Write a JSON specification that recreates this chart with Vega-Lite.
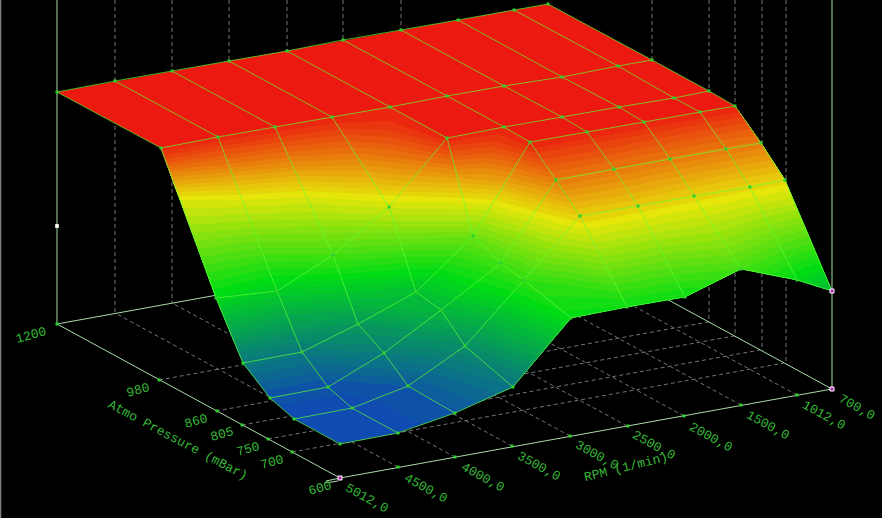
{"$schema":"https://vega.github.io/schema/vega-lite/v6.json","width":882,"height":518,"padding":0,"autosize":{"type":"none"},"background":"#000000","config":{"view":{"stroke":null}},
"datasets":{
"grid":[
{"pressure":1200,"rpm":5012,"sx":57,"sy":92},{"pressure":1200,"rpm":4500,"sx":115,"sy":81},{"pressure":1200,"rpm":4000,"sx":172,"sy":71},{"pressure":1200,"rpm":3500,"sx":229,"sy":61},{"pressure":1200,"rpm":3000,"sx":287,"sy":51},{"pressure":1200,"rpm":2500,"sx":343,"sy":40},{"pressure":1200,"rpm":2000,"sx":401,"sy":30},{"pressure":1200,"rpm":1500,"sx":458,"sy":20},{"pressure":1200,"rpm":1012,"sx":514,"sy":10},{"pressure":1200,"rpm":700,"sx":548,"sy":4},
{"pressure":980,"rpm":5012,"sx":161,"sy":148},{"pressure":980,"rpm":4500,"sx":218,"sy":137},{"pressure":980,"rpm":4000,"sx":275,"sy":127},{"pressure":980,"rpm":3500,"sx":332,"sy":117},{"pressure":980,"rpm":3000,"sx":390,"sy":107},{"pressure":980,"rpm":2500,"sx":447,"sy":96},{"pressure":980,"rpm":2000,"sx":504,"sy":86},{"pressure":980,"rpm":1500,"sx":562,"sy":77},{"pressure":980,"rpm":1012,"sx":618,"sy":66},{"pressure":980,"rpm":700,"sx":652,"sy":60},
{"pressure":860,"rpm":5012,"sx":216,"sy":298},{"pressure":860,"rpm":4500,"sx":277,"sy":291},{"pressure":860,"rpm":4000,"sx":333,"sy":255},{"pressure":860,"rpm":3500,"sx":389,"sy":207},{"pressure":860,"rpm":3000,"sx":447,"sy":138},{"pressure":860,"rpm":2500,"sx":504,"sy":127},{"pressure":860,"rpm":2000,"sx":562,"sy":117},{"pressure":860,"rpm":1500,"sx":619,"sy":107},{"pressure":860,"rpm":1012,"sx":674,"sy":98},{"pressure":860,"rpm":700,"sx":709,"sy":91},
{"pressure":805,"rpm":5012,"sx":243,"sy":363},{"pressure":805,"rpm":4500,"sx":302,"sy":352},{"pressure":805,"rpm":4000,"sx":358,"sy":324},{"pressure":805,"rpm":3500,"sx":416,"sy":292},{"pressure":805,"rpm":3000,"sx":473,"sy":236},{"pressure":805,"rpm":2500,"sx":530,"sy":142},{"pressure":805,"rpm":2000,"sx":587,"sy":132},{"pressure":805,"rpm":1500,"sx":644,"sy":122},{"pressure":805,"rpm":1012,"sx":700,"sy":112},{"pressure":805,"rpm":700,"sx":735,"sy":106},
{"pressure":750,"rpm":5012,"sx":270,"sy":398},{"pressure":750,"rpm":4500,"sx":328,"sy":387},{"pressure":750,"rpm":4000,"sx":384,"sy":353},{"pressure":750,"rpm":3500,"sx":441,"sy":310},{"pressure":750,"rpm":3000,"sx":501,"sy":263},{"pressure":750,"rpm":2500,"sx":556,"sy":180},{"pressure":750,"rpm":2000,"sx":614,"sy":169},{"pressure":750,"rpm":1500,"sx":670,"sy":159},{"pressure":750,"rpm":1012,"sx":726,"sy":149},{"pressure":750,"rpm":700,"sx":761,"sy":143},
{"pressure":700,"rpm":5012,"sx":294,"sy":419},{"pressure":700,"rpm":4500,"sx":352,"sy":408},{"pressure":700,"rpm":4000,"sx":408,"sy":386},{"pressure":700,"rpm":3500,"sx":465,"sy":346},{"pressure":700,"rpm":3000,"sx":524,"sy":280},{"pressure":700,"rpm":2500,"sx":580,"sy":216},{"pressure":700,"rpm":2000,"sx":638,"sy":206},{"pressure":700,"rpm":1500,"sx":694,"sy":196},{"pressure":700,"rpm":1012,"sx":750,"sy":187},{"pressure":700,"rpm":700,"sx":785,"sy":180},
{"pressure":600,"rpm":5012,"sx":340,"sy":444},{"pressure":600,"rpm":4500,"sx":398,"sy":433},{"pressure":600,"rpm":4000,"sx":455,"sy":413},{"pressure":600,"rpm":3500,"sx":513,"sy":387},{"pressure":600,"rpm":3000,"sx":571,"sy":318},{"pressure":600,"rpm":2500,"sx":627,"sy":307},{"pressure":600,"rpm":2000,"sx":685,"sy":297},{"pressure":600,"rpm":1500,"sx":741,"sy":269},{"pressure":600,"rpm":1012,"sx":797,"sy":280},{"pressure":600,"rpm":700,"sx":832,"sy":291}
],
"surface":[
{"level":34,"sx":161,"sy":148},{"level":34,"sx":216,"sy":298},{"level":34,"sx":243,"sy":363},{"level":34,"sx":270,"sy":398},{"level":34,"sx":294,"sy":419},{"level":34,"sx":340,"sy":444},{"level":34,"sx":398,"sy":433},{"level":34,"sx":455,"sy":413},{"level":34,"sx":513,"sy":387},{"level":34,"sx":571,"sy":318},{"level":34,"sx":627,"sy":307},{"level":34,"sx":685,"sy":297},{"level":34,"sx":741,"sy":269},{"level":34,"sx":797,"sy":280},{"level":34,"sx":832,"sy":291},{"level":34,"sx":785,"sy":180},{"level":34,"sx":761,"sy":143},{"level":34,"sx":735,"sy":106},{"level":34,"sx":390,"sy":107},
{"level":38,"sx":279,"sy":406},{"level":38,"sx":337,"sy":395},{"level":38,"sx":375,"sy":399},{"level":38,"sx":421,"sy":425},{"level":38,"sx":455,"sy":413},{"level":38,"sx":513,"sy":387},{"level":38,"sx":571,"sy":318},{"level":38,"sx":627,"sy":307},{"level":38,"sx":685,"sy":297},{"level":38,"sx":741,"sy":269},{"level":38,"sx":797,"sy":280},{"level":38,"sx":832,"sy":291},{"level":38,"sx":785,"sy":180},{"level":38,"sx":761,"sy":143},{"level":38,"sx":735,"sy":106},{"level":38,"sx":390,"sy":107},{"level":38,"sx":161,"sy":148},{"level":38,"sx":216,"sy":298},{"level":38,"sx":243,"sy":363},{"level":38,"sx":270,"sy":398},
{"level":45,"sx":265,"sy":391},{"level":45,"sx":323,"sy":380},{"level":45,"sx":408,"sy":386},{"level":45,"sx":459,"sy":411},{"level":45,"sx":513,"sy":387},{"level":45,"sx":571,"sy":318},{"level":45,"sx":627,"sy":307},{"level":45,"sx":685,"sy":297},{"level":45,"sx":741,"sy":269},{"level":45,"sx":797,"sy":280},{"level":45,"sx":832,"sy":291},{"level":45,"sx":785,"sy":180},{"level":45,"sx":761,"sy":143},{"level":45,"sx":735,"sy":106},{"level":45,"sx":390,"sy":107},{"level":45,"sx":161,"sy":148},{"level":45,"sx":216,"sy":298},{"level":45,"sx":243,"sy":363},
{"level":50,"sx":258,"sy":383},{"level":50,"sx":317,"sy":372},{"level":50,"sx":402,"sy":378},{"level":50,"sx":418,"sy":379},{"level":50,"sx":478,"sy":403},{"level":50,"sx":513,"sy":387},{"level":50,"sx":571,"sy":318},{"level":50,"sx":627,"sy":307},{"level":50,"sx":685,"sy":297},{"level":50,"sx":741,"sy":269},{"level":50,"sx":797,"sy":280},{"level":50,"sx":832,"sy":291},{"level":50,"sx":785,"sy":180},{"level":50,"sx":761,"sy":143},{"level":50,"sx":735,"sy":106},{"level":50,"sx":390,"sy":107},{"level":50,"sx":161,"sy":148},{"level":50,"sx":216,"sy":298},{"level":50,"sx":243,"sy":363},
{"level":55,"sx":252,"sy":375},{"level":55,"sx":311,"sy":364},{"level":55,"sx":396,"sy":370},{"level":55,"sx":428,"sy":372},{"level":55,"sx":497,"sy":394},{"level":55,"sx":513,"sy":387},{"level":55,"sx":571,"sy":318},{"level":55,"sx":627,"sy":307},{"level":55,"sx":685,"sy":297},{"level":55,"sx":741,"sy":269},{"level":55,"sx":797,"sy":280},{"level":55,"sx":832,"sy":291},{"level":55,"sx":785,"sy":180},{"level":55,"sx":761,"sy":143},{"level":55,"sx":735,"sy":106},{"level":55,"sx":390,"sy":107},{"level":55,"sx":161,"sy":148},{"level":55,"sx":216,"sy":298},{"level":55,"sx":243,"sy":363},
{"level":60,"sx":246,"sy":368},{"level":60,"sx":304,"sy":355},{"level":60,"sx":390,"sy":361},{"level":60,"sx":437,"sy":365},{"level":60,"sx":510,"sy":385},{"level":60,"sx":514,"sy":386},{"level":60,"sx":571,"sy":318},{"level":60,"sx":627,"sy":307},{"level":60,"sx":685,"sy":297},{"level":60,"sx":741,"sy":269},{"level":60,"sx":797,"sy":280},{"level":60,"sx":832,"sy":291},{"level":60,"sx":785,"sy":180},{"level":60,"sx":761,"sy":143},{"level":60,"sx":735,"sy":106},{"level":60,"sx":390,"sy":107},{"level":60,"sx":161,"sy":148},{"level":60,"sx":216,"sy":298},{"level":60,"sx":243,"sy":363},
{"level":65,"sx":241,"sy":359},{"level":65,"sx":300,"sy":348},{"level":65,"sx":384,"sy":353},{"level":65,"sx":447,"sy":358},{"level":65,"sx":494,"sy":371},{"level":65,"sx":519,"sy":380},{"level":65,"sx":571,"sy":318},{"level":65,"sx":627,"sy":307},{"level":65,"sx":685,"sy":297},{"level":65,"sx":741,"sy":269},{"level":65,"sx":797,"sy":280},{"level":65,"sx":832,"sy":291},{"level":65,"sx":785,"sy":180},{"level":65,"sx":761,"sy":143},{"level":65,"sx":735,"sy":106},{"level":65,"sx":390,"sy":107},{"level":65,"sx":161,"sy":148},{"level":65,"sx":216,"sy":298},
{"level":70,"sx":238,"sy":352},{"level":70,"sx":298,"sy":342},{"level":70,"sx":376,"sy":344},{"level":70,"sx":457,"sy":352},{"level":70,"sx":478,"sy":357},{"level":70,"sx":524,"sy":374},{"level":70,"sx":571,"sy":318},{"level":70,"sx":627,"sy":307},{"level":70,"sx":685,"sy":297},{"level":70,"sx":741,"sy":269},{"level":70,"sx":797,"sy":280},{"level":70,"sx":832,"sy":291},{"level":70,"sx":785,"sy":180},{"level":70,"sx":761,"sy":143},{"level":70,"sx":735,"sy":106},{"level":70,"sx":390,"sy":107},{"level":70,"sx":161,"sy":148},{"level":70,"sx":216,"sy":298},
{"level":75,"sx":236,"sy":346},{"level":75,"sx":295,"sy":335},{"level":75,"sx":367,"sy":334},{"level":75,"sx":464,"sy":344},{"level":75,"sx":529,"sy":368},{"level":75,"sx":571,"sy":318},{"level":75,"sx":627,"sy":307},{"level":75,"sx":685,"sy":297},{"level":75,"sx":741,"sy":269},{"level":75,"sx":797,"sy":280},{"level":75,"sx":832,"sy":291},{"level":75,"sx":785,"sy":180},{"level":75,"sx":761,"sy":143},{"level":75,"sx":735,"sy":106},{"level":75,"sx":390,"sy":107},{"level":75,"sx":161,"sy":148},{"level":75,"sx":216,"sy":298},
{"level":80,"sx":233,"sy":340},{"level":80,"sx":292,"sy":329},{"level":80,"sx":358,"sy":324},{"level":80,"sx":458,"sy":336},{"level":80,"sx":470,"sy":338},{"level":80,"sx":533,"sy":362},{"level":80,"sx":571,"sy":318},{"level":80,"sx":627,"sy":307},{"level":80,"sx":685,"sy":297},{"level":80,"sx":741,"sy":269},{"level":80,"sx":797,"sy":280},{"level":80,"sx":832,"sy":291},{"level":80,"sx":785,"sy":180},{"level":80,"sx":761,"sy":143},{"level":80,"sx":735,"sy":106},{"level":80,"sx":390,"sy":107},{"level":80,"sx":161,"sy":148},{"level":80,"sx":216,"sy":298},
{"level":85,"sx":231,"sy":334},{"level":85,"sx":290,"sy":322},{"level":85,"sx":356,"sy":318},{"level":85,"sx":453,"sy":329},{"level":85,"sx":476,"sy":333},{"level":85,"sx":538,"sy":357},{"level":85,"sx":571,"sy":318},{"level":85,"sx":627,"sy":307},{"level":85,"sx":685,"sy":297},{"level":85,"sx":741,"sy":269},{"level":85,"sx":797,"sy":280},{"level":85,"sx":832,"sy":291},{"level":85,"sx":785,"sy":180},{"level":85,"sx":761,"sy":143},{"level":85,"sx":735,"sy":106},{"level":85,"sx":390,"sy":107},{"level":85,"sx":161,"sy":148},{"level":85,"sx":216,"sy":298},
{"level":90,"sx":228,"sy":328},{"level":90,"sx":287,"sy":315},{"level":90,"sx":353,"sy":311},{"level":90,"sx":448,"sy":321},{"level":90,"sx":482,"sy":327},{"level":90,"sx":543,"sy":351},{"level":90,"sx":571,"sy":318},{"level":90,"sx":627,"sy":307},{"level":90,"sx":685,"sy":297},{"level":90,"sx":741,"sy":269},{"level":90,"sx":797,"sy":280},{"level":90,"sx":832,"sy":291},{"level":90,"sx":785,"sy":180},{"level":90,"sx":761,"sy":143},{"level":90,"sx":735,"sy":106},{"level":90,"sx":390,"sy":107},{"level":90,"sx":161,"sy":148},{"level":90,"sx":216,"sy":298},
{"level":95,"sx":226,"sy":321},{"level":95,"sx":284,"sy":309},{"level":95,"sx":351,"sy":305},{"level":95,"sx":443,"sy":313},{"level":95,"sx":487,"sy":321},{"level":95,"sx":548,"sy":345},{"level":95,"sx":571,"sy":318},{"level":95,"sx":627,"sy":307},{"level":95,"sx":685,"sy":297},{"level":95,"sx":741,"sy":269},{"level":95,"sx":797,"sy":280},{"level":95,"sx":832,"sy":291},{"level":95,"sx":785,"sy":180},{"level":95,"sx":761,"sy":143},{"level":95,"sx":735,"sy":106},{"level":95,"sx":390,"sy":107},{"level":95,"sx":161,"sy":148},{"level":95,"sx":216,"sy":298},
{"level":100,"sx":223,"sy":315},{"level":100,"sx":281,"sy":303},{"level":100,"sx":349,"sy":299},{"level":100,"sx":422,"sy":296},{"level":100,"sx":446,"sy":306},{"level":100,"sx":492,"sy":315},{"level":100,"sx":553,"sy":339},{"level":100,"sx":571,"sy":318},{"level":100,"sx":627,"sy":307},{"level":100,"sx":685,"sy":297},{"level":100,"sx":741,"sy":269},{"level":100,"sx":797,"sy":280},{"level":100,"sx":828,"sy":288},{"level":100,"sx":831,"sy":288},{"level":100,"sx":785,"sy":180},{"level":100,"sx":761,"sy":143},{"level":100,"sx":735,"sy":106},{"level":100,"sx":390,"sy":107},{"level":100,"sx":161,"sy":148},{"level":100,"sx":216,"sy":298},
{"level":105,"sx":220,"sy":308},{"level":105,"sx":279,"sy":296},{"level":105,"sx":347,"sy":293},{"level":105,"sx":414,"sy":287},{"level":105,"sx":454,"sy":300},{"level":105,"sx":498,"sy":309},{"level":105,"sx":558,"sy":333},{"level":105,"sx":571,"sy":318},{"level":105,"sx":627,"sy":307},{"level":105,"sx":685,"sy":297},{"level":105,"sx":741,"sy":269},{"level":105,"sx":797,"sy":280},{"level":105,"sx":818,"sy":287},{"level":105,"sx":828,"sy":282},{"level":105,"sx":785,"sy":180},{"level":105,"sx":761,"sy":143},{"level":105,"sx":735,"sy":106},{"level":105,"sx":390,"sy":107},{"level":105,"sx":161,"sy":148},{"level":105,"sx":216,"sy":298},
{"level":110,"sx":218,"sy":303},{"level":110,"sx":276,"sy":289},{"level":110,"sx":344,"sy":286},{"level":110,"sx":412,"sy":281},{"level":110,"sx":427,"sy":281},{"level":110,"sx":462,"sy":294},{"level":110,"sx":503,"sy":304},{"level":110,"sx":563,"sy":327},{"level":110,"sx":571,"sy":318},{"level":110,"sx":627,"sy":307},{"level":110,"sx":685,"sy":297},{"level":110,"sx":741,"sy":269},{"level":110,"sx":797,"sy":280},{"level":110,"sx":807,"sy":283},{"level":110,"sx":825,"sy":275},{"level":110,"sx":785,"sy":180},{"level":110,"sx":761,"sy":143},{"level":110,"sx":735,"sy":106},{"level":110,"sx":390,"sy":107},{"level":110,"sx":161,"sy":148},{"level":110,"sx":216,"sy":298},
{"level":115,"sx":216,"sy":298},{"level":115,"sx":274,"sy":283},{"level":115,"sx":342,"sy":280},{"level":115,"sx":411,"sy":275},{"level":115,"sx":433,"sy":275},{"level":115,"sx":470,"sy":287},{"level":115,"sx":508,"sy":298},{"level":115,"sx":568,"sy":322},{"level":115,"sx":571,"sy":318},{"level":115,"sx":627,"sy":307},{"level":115,"sx":685,"sy":297},{"level":115,"sx":741,"sy":269},{"level":115,"sx":797,"sy":280},{"level":115,"sx":823,"sy":269},{"level":115,"sx":785,"sy":180},{"level":115,"sx":761,"sy":143},{"level":115,"sx":735,"sy":106},{"level":115,"sx":390,"sy":107},{"level":115,"sx":161,"sy":148},
{"level":120,"sx":213,"sy":290},{"level":120,"sx":272,"sy":276},{"level":120,"sx":340,"sy":274},{"level":120,"sx":409,"sy":269},{"level":120,"sx":440,"sy":269},{"level":120,"sx":478,"sy":281},{"level":120,"sx":513,"sy":292},{"level":120,"sx":563,"sy":312},{"level":120,"sx":627,"sy":306},{"level":120,"sx":685,"sy":296},{"level":120,"sx":741,"sy":269},{"level":120,"sx":784,"sy":277},{"level":120,"sx":793,"sy":273},{"level":120,"sx":820,"sy":262},{"level":120,"sx":785,"sy":180},{"level":120,"sx":761,"sy":143},{"level":120,"sx":735,"sy":106},{"level":120,"sx":390,"sy":107},{"level":120,"sx":161,"sy":148},
{"level":125,"sx":210,"sy":282},{"level":125,"sx":269,"sy":269},{"level":125,"sx":338,"sy":268},{"level":125,"sx":407,"sy":263},{"level":125,"sx":446,"sy":263},{"level":125,"sx":486,"sy":274},{"level":125,"sx":519,"sy":286},{"level":125,"sx":544,"sy":296},{"level":125,"sx":623,"sy":299},{"level":125,"sx":681,"sy":289},{"level":125,"sx":705,"sy":287},{"level":125,"sx":741,"sy":269},{"level":125,"sx":770,"sy":275},{"level":125,"sx":790,"sy":266},{"level":125,"sx":817,"sy":255},{"level":125,"sx":785,"sy":180},{"level":125,"sx":761,"sy":143},{"level":125,"sx":735,"sy":106},{"level":125,"sx":390,"sy":107},{"level":125,"sx":161,"sy":148},
{"level":130,"sx":207,"sy":273},{"level":130,"sx":266,"sy":262},{"level":130,"sx":336,"sy":261},{"level":130,"sx":405,"sy":257},{"level":130,"sx":452,"sy":256},{"level":130,"sx":492,"sy":268},{"level":130,"sx":524,"sy":280},{"level":130,"sx":619,"sy":292},{"level":130,"sx":677,"sy":282},{"level":130,"sx":721,"sy":279},{"level":130,"sx":741,"sy":269},{"level":130,"sx":757,"sy":272},{"level":130,"sx":786,"sy":259},{"level":130,"sx":814,"sy":249},{"level":130,"sx":785,"sy":180},{"level":130,"sx":761,"sy":143},{"level":130,"sx":735,"sy":106},{"level":130,"sx":390,"sy":107},{"level":130,"sx":161,"sy":148},
{"level":135,"sx":204,"sy":265},{"level":135,"sx":263,"sy":255},{"level":135,"sx":333,"sy":255},{"level":135,"sx":403,"sy":251},{"level":135,"sx":458,"sy":250},{"level":135,"sx":499,"sy":261},{"level":135,"sx":529,"sy":274},{"level":135,"sx":615,"sy":285},{"level":135,"sx":673,"sy":275},{"level":135,"sx":741,"sy":269},{"level":135,"sx":783,"sy":252},{"level":135,"sx":812,"sy":243},{"level":135,"sx":785,"sy":180},{"level":135,"sx":761,"sy":143},{"level":135,"sx":735,"sy":106},{"level":135,"sx":390,"sy":107},{"level":135,"sx":161,"sy":148},
{"level":140,"sx":201,"sy":257},{"level":140,"sx":260,"sy":248},{"level":140,"sx":329,"sy":248},{"level":140,"sx":401,"sy":245},{"level":140,"sx":465,"sy":244},{"level":140,"sx":504,"sy":256},{"level":140,"sx":534,"sy":268},{"level":140,"sx":611,"sy":278},{"level":140,"sx":669,"sy":268},{"level":140,"sx":737,"sy":262},{"level":140,"sx":779,"sy":245},{"level":140,"sx":809,"sy":236},{"level":140,"sx":785,"sy":180},{"level":140,"sx":761,"sy":143},{"level":140,"sx":735,"sy":106},{"level":140,"sx":390,"sy":107},{"level":140,"sx":161,"sy":148},
{"level":145,"sx":198,"sy":249},{"level":145,"sx":258,"sy":241},{"level":145,"sx":326,"sy":241},{"level":145,"sx":399,"sy":239},{"level":145,"sx":473,"sy":237},{"level":145,"sx":509,"sy":251},{"level":145,"sx":540,"sy":262},{"level":145,"sx":608,"sy":271},{"level":145,"sx":666,"sy":261},{"level":145,"sx":732,"sy":255},{"level":145,"sx":776,"sy":238},{"level":145,"sx":806,"sy":230},{"level":145,"sx":785,"sy":180},{"level":145,"sx":761,"sy":143},{"level":145,"sx":735,"sy":106},{"level":145,"sx":390,"sy":107},{"level":145,"sx":161,"sy":148},
{"level":150,"sx":195,"sy":241},{"level":150,"sx":255,"sy":234},{"level":150,"sx":323,"sy":233},{"level":150,"sx":397,"sy":233},{"level":150,"sx":472,"sy":232},{"level":150,"sx":513,"sy":245},{"level":150,"sx":545,"sy":256},{"level":150,"sx":604,"sy":264},{"level":150,"sx":662,"sy":254},{"level":150,"sx":727,"sy":248},{"level":150,"sx":772,"sy":231},{"level":150,"sx":803,"sy":223},{"level":150,"sx":785,"sy":180},{"level":150,"sx":761,"sy":143},{"level":150,"sx":735,"sy":106},{"level":150,"sx":390,"sy":107},{"level":150,"sx":161,"sy":148},
{"level":155,"sx":192,"sy":233},{"level":155,"sx":253,"sy":228},{"level":155,"sx":320,"sy":226},{"level":155,"sx":395,"sy":227},{"level":155,"sx":471,"sy":227},{"level":155,"sx":478,"sy":227},{"level":155,"sx":517,"sy":239},{"level":155,"sx":550,"sy":250},{"level":155,"sx":601,"sy":257},{"level":155,"sx":659,"sy":247},{"level":155,"sx":722,"sy":240},{"level":155,"sx":769,"sy":224},{"level":155,"sx":800,"sy":217},{"level":155,"sx":785,"sy":180},{"level":155,"sx":761,"sy":143},{"level":155,"sx":735,"sy":106},{"level":155,"sx":390,"sy":107},{"level":155,"sx":161,"sy":148},
{"level":160,"sx":189,"sy":225},{"level":160,"sx":250,"sy":221},{"level":160,"sx":316,"sy":219},{"level":160,"sx":393,"sy":221},{"level":160,"sx":469,"sy":221},{"level":160,"sx":481,"sy":222},{"level":160,"sx":520,"sy":233},{"level":160,"sx":555,"sy":244},{"level":160,"sx":597,"sy":250},{"level":160,"sx":655,"sy":240},{"level":160,"sx":717,"sy":232},{"level":160,"sx":765,"sy":217},{"level":160,"sx":797,"sy":210},{"level":160,"sx":785,"sy":180},{"level":160,"sx":761,"sy":143},{"level":160,"sx":735,"sy":106},{"level":160,"sx":390,"sy":107},{"level":160,"sx":161,"sy":148},
{"level":165,"sx":186,"sy":217},{"level":165,"sx":247,"sy":214},{"level":165,"sx":313,"sy":212},{"level":165,"sx":392,"sy":215},{"level":165,"sx":467,"sy":215},{"level":165,"sx":485,"sy":216},{"level":165,"sx":524,"sy":228},{"level":165,"sx":560,"sy":238},{"level":165,"sx":594,"sy":243},{"level":165,"sx":652,"sy":233},{"level":165,"sx":712,"sy":224},{"level":165,"sx":762,"sy":211},{"level":165,"sx":795,"sy":204},{"level":165,"sx":785,"sy":180},{"level":165,"sx":761,"sy":143},{"level":165,"sx":735,"sy":106},{"level":165,"sx":390,"sy":107},{"level":165,"sx":161,"sy":148},
{"level":170,"sx":183,"sy":208},{"level":170,"sx":244,"sy":207},{"level":170,"sx":310,"sy":204},{"level":170,"sx":389,"sy":208},{"level":170,"sx":465,"sy":209},{"level":170,"sx":488,"sy":210},{"level":170,"sx":528,"sy":222},{"level":170,"sx":565,"sy":232},{"level":170,"sx":590,"sy":236},{"level":170,"sx":648,"sy":226},{"level":170,"sx":707,"sy":216},{"level":170,"sx":758,"sy":204},{"level":170,"sx":792,"sy":197},{"level":170,"sx":785,"sy":180},{"level":170,"sx":761,"sy":143},{"level":170,"sx":735,"sy":106},{"level":170,"sx":390,"sy":107},{"level":170,"sx":161,"sy":148},
{"level":175,"sx":180,"sy":200},{"level":175,"sx":242,"sy":200},{"level":175,"sx":307,"sy":197},{"level":175,"sx":386,"sy":202},{"level":175,"sx":464,"sy":203},{"level":175,"sx":492,"sy":205},{"level":175,"sx":532,"sy":216},{"level":175,"sx":571,"sy":227},{"level":175,"sx":586,"sy":229},{"level":175,"sx":644,"sy":219},{"level":175,"sx":702,"sy":208},{"level":175,"sx":755,"sy":197},{"level":175,"sx":789,"sy":190},{"level":175,"sx":785,"sy":180},{"level":175,"sx":761,"sy":143},{"level":175,"sx":735,"sy":106},{"level":175,"sx":390,"sy":107},{"level":175,"sx":161,"sy":148},
{"level":180,"sx":178,"sy":196},{"level":180,"sx":240,"sy":195},{"level":180,"sx":304,"sy":191},{"level":180,"sx":382,"sy":195},{"level":180,"sx":463,"sy":198},{"level":180,"sx":495,"sy":200},{"level":180,"sx":535,"sy":211},{"level":180,"sx":575,"sy":221},{"level":180,"sx":583,"sy":223},{"level":180,"sx":641,"sy":212},{"level":180,"sx":698,"sy":201},{"level":180,"sx":752,"sy":190},{"level":180,"sx":787,"sy":184},{"level":180,"sx":785,"sy":180},{"level":180,"sx":761,"sy":143},{"level":180,"sx":735,"sy":106},{"level":180,"sx":390,"sy":107},{"level":180,"sx":161,"sy":148},
{"level":184,"sx":177,"sy":192},{"level":184,"sx":238,"sy":190},{"level":184,"sx":302,"sy":186},{"level":184,"sx":378,"sy":189},{"level":184,"sx":389,"sy":191},{"level":184,"sx":462,"sy":193},{"level":184,"sx":498,"sy":195},{"level":184,"sx":539,"sy":206},{"level":184,"sx":580,"sy":216},{"level":184,"sx":638,"sy":206},{"level":184,"sx":693,"sy":195},{"level":184,"sx":748,"sy":184},{"level":184,"sx":784,"sy":178},{"level":184,"sx":761,"sy":143},{"level":184,"sx":735,"sy":106},{"level":184,"sx":390,"sy":107},{"level":184,"sx":161,"sy":148},
{"level":188,"sx":175,"sy":188},{"level":188,"sx":236,"sy":185},{"level":188,"sx":299,"sy":181},{"level":188,"sx":374,"sy":183},{"level":188,"sx":389,"sy":186},{"level":188,"sx":460,"sy":188},{"level":188,"sx":501,"sy":190},{"level":188,"sx":542,"sy":201},{"level":188,"sx":576,"sy":209},{"level":188,"sx":634,"sy":200},{"level":188,"sx":689,"sy":188},{"level":188,"sx":744,"sy":178},{"level":188,"sx":780,"sy":172},{"level":188,"sx":761,"sy":143},{"level":188,"sx":735,"sy":106},{"level":188,"sx":390,"sy":107},{"level":188,"sx":161,"sy":148},
{"level":192,"sx":174,"sy":185},{"level":192,"sx":235,"sy":181},{"level":192,"sx":297,"sy":176},{"level":192,"sx":370,"sy":177},{"level":192,"sx":389,"sy":180},{"level":192,"sx":459,"sy":183},{"level":192,"sx":504,"sy":186},{"level":192,"sx":545,"sy":197},{"level":192,"sx":572,"sy":203},{"level":192,"sx":630,"sy":194},{"level":192,"sx":685,"sy":182},{"level":192,"sx":740,"sy":172},{"level":192,"sx":776,"sy":166},{"level":192,"sx":761,"sy":143},{"level":192,"sx":735,"sy":106},{"level":192,"sx":390,"sy":107},{"level":192,"sx":161,"sy":148},
{"level":196,"sx":173,"sy":181},{"level":196,"sx":233,"sy":176},{"level":196,"sx":295,"sy":171},{"level":196,"sx":366,"sy":171},{"level":196,"sx":389,"sy":174},{"level":196,"sx":458,"sy":178},{"level":196,"sx":507,"sy":182},{"level":196,"sx":548,"sy":192},{"level":196,"sx":568,"sy":197},{"level":196,"sx":626,"sy":187},{"level":196,"sx":681,"sy":176},{"level":196,"sx":736,"sy":166},{"level":196,"sx":772,"sy":160},{"level":196,"sx":761,"sy":143},{"level":196,"sx":735,"sy":106},{"level":196,"sx":390,"sy":107},{"level":196,"sx":161,"sy":148},
{"level":200,"sx":172,"sy":177},{"level":200,"sx":232,"sy":172},{"level":200,"sx":293,"sy":167},{"level":200,"sx":362,"sy":165},{"level":200,"sx":389,"sy":168},{"level":200,"sx":457,"sy":174},{"level":200,"sx":486,"sy":174},{"level":200,"sx":509,"sy":177},{"level":200,"sx":551,"sy":188},{"level":200,"sx":563,"sy":191},{"level":200,"sx":622,"sy":181},{"level":200,"sx":677,"sy":170},{"level":200,"sx":733,"sy":160},{"level":200,"sx":768,"sy":154},{"level":200,"sx":761,"sy":143},{"level":200,"sx":735,"sy":106},{"level":200,"sx":390,"sy":107},{"level":200,"sx":161,"sy":148},
{"level":204,"sx":170,"sy":173},{"level":204,"sx":230,"sy":168},{"level":204,"sx":290,"sy":162},{"level":204,"sx":358,"sy":159},{"level":204,"sx":389,"sy":162},{"level":204,"sx":455,"sy":169},{"level":204,"sx":486,"sy":168},{"level":204,"sx":511,"sy":172},{"level":204,"sx":553,"sy":183},{"level":204,"sx":559,"sy":185},{"level":204,"sx":618,"sy":175},{"level":204,"sx":673,"sy":164},{"level":204,"sx":729,"sy":154},{"level":204,"sx":764,"sy":148},{"level":204,"sx":761,"sy":143},{"level":204,"sx":735,"sy":106},{"level":204,"sx":390,"sy":107},{"level":204,"sx":161,"sy":148},
{"level":208,"sx":169,"sy":170},{"level":208,"sx":228,"sy":164},{"level":208,"sx":288,"sy":157},{"level":208,"sx":355,"sy":153},{"level":208,"sx":389,"sy":157},{"level":208,"sx":454,"sy":165},{"level":208,"sx":487,"sy":163},{"level":208,"sx":514,"sy":168},{"level":208,"sx":555,"sy":178},{"level":208,"sx":614,"sy":169},{"level":208,"sx":669,"sy":157},{"level":208,"sx":725,"sy":147},{"level":208,"sx":760,"sy":141},{"level":208,"sx":735,"sy":106},{"level":208,"sx":390,"sy":107},{"level":208,"sx":161,"sy":148},
{"level":212,"sx":167,"sy":166},{"level":212,"sx":226,"sy":159},{"level":212,"sx":286,"sy":152},{"level":212,"sx":351,"sy":147},{"level":212,"sx":389,"sy":150},{"level":212,"sx":453,"sy":160},{"level":212,"sx":489,"sy":158},{"level":212,"sx":517,"sy":163},{"level":212,"sx":550,"sy":172},{"level":212,"sx":609,"sy":162},{"level":212,"sx":664,"sy":151},{"level":212,"sx":720,"sy":141},{"level":212,"sx":755,"sy":135},{"level":212,"sx":735,"sy":106},{"level":212,"sx":390,"sy":107},{"level":212,"sx":161,"sy":148},
{"level":216,"sx":166,"sy":163},{"level":216,"sx":225,"sy":155},{"level":216,"sx":284,"sy":147},{"level":216,"sx":347,"sy":141},{"level":216,"sx":389,"sy":144},{"level":216,"sx":452,"sy":156},{"level":216,"sx":491,"sy":153},{"level":216,"sx":520,"sy":159},{"level":216,"sx":546,"sy":166},{"level":216,"sx":605,"sy":156},{"level":216,"sx":660,"sy":145},{"level":216,"sx":716,"sy":135},{"level":216,"sx":751,"sy":129},{"level":216,"sx":735,"sy":106},{"level":216,"sx":390,"sy":107},{"level":216,"sx":161,"sy":148},
{"level":220,"sx":165,"sy":159},{"level":220,"sx":223,"sy":150},{"level":220,"sx":281,"sy":142},{"level":220,"sx":343,"sy":135},{"level":220,"sx":389,"sy":137},{"level":220,"sx":450,"sy":151},{"level":220,"sx":492,"sy":147},{"level":220,"sx":522,"sy":154},{"level":220,"sx":542,"sy":160},{"level":220,"sx":600,"sy":150},{"level":220,"sx":656,"sy":139},{"level":220,"sx":712,"sy":129},{"level":220,"sx":747,"sy":123},{"level":220,"sx":735,"sy":106},{"level":220,"sx":390,"sy":107},{"level":220,"sx":161,"sy":148},
{"level":224,"sx":164,"sy":155},{"level":224,"sx":221,"sy":146},{"level":224,"sx":279,"sy":137},{"level":224,"sx":340,"sy":129},{"level":224,"sx":389,"sy":130},{"level":224,"sx":449,"sy":146},{"level":224,"sx":494,"sy":141},{"level":224,"sx":525,"sy":150},{"level":224,"sx":538,"sy":153},{"level":224,"sx":595,"sy":143},{"level":224,"sx":652,"sy":133},{"level":224,"sx":708,"sy":123},{"level":224,"sx":743,"sy":117},{"level":224,"sx":735,"sy":106},{"level":224,"sx":390,"sy":107},{"level":224,"sx":161,"sy":148},
{"level":228,"sx":162,"sy":151},{"level":228,"sx":220,"sy":141},{"level":228,"sx":277,"sy":132},{"level":228,"sx":336,"sy":123},{"level":228,"sx":389,"sy":121},{"level":228,"sx":448,"sy":142},{"level":228,"sx":499,"sy":134},{"level":228,"sx":527,"sy":146},{"level":228,"sx":534,"sy":148},{"level":228,"sx":591,"sy":138},{"level":228,"sx":648,"sy":128},{"level":228,"sx":704,"sy":118},{"level":228,"sx":739,"sy":112},{"level":228,"sx":735,"sy":106},{"level":228,"sx":390,"sy":107},{"level":228,"sx":161,"sy":148},
{"level":232,"sx":57,"sy":92},{"level":232,"sx":548,"sy":4},{"level":232,"sx":652,"sy":60},{"level":232,"sx":709,"sy":91},{"level":232,"sx":735,"sy":106},{"level":232,"sx":530,"sy":142},{"level":232,"sx":504,"sy":127},{"level":232,"sx":447,"sy":138},{"level":232,"sx":390,"sy":107},{"level":232,"sx":161,"sy":148}
],
"dashed":[
{"id":"r980","sx":159,"sy":380},{"id":"r980","sx":651,"sy":291},{"id":"r860","sx":216,"sy":411},{"id":"r860","sx":708,"sy":322},{"id":"r805","sx":242,"sy":425},{"id":"r805","sx":734,"sy":336},{"id":"r750","sx":268,"sy":439},{"id":"r750","sx":760,"sy":350},{"id":"r700","sx":292,"sy":452},{"id":"r700","sx":784,"sy":363},
{"id":"c4500","sx":398,"sy":467},{"id":"c4500","sx":115,"sy":313},{"id":"c4000","sx":455,"sy":457},{"id":"c4000","sx":172,"sy":303},{"id":"c3500","sx":512,"sy":446},{"id":"c3500","sx":229,"sy":292},{"id":"c3000","sx":570,"sy":436},{"id":"c3000","sx":287,"sy":282},{"id":"c2500","sx":627,"sy":426},{"id":"c2500","sx":344,"sy":272},{"id":"c2000","sx":684,"sy":416},{"id":"c2000","sx":401,"sy":262},{"id":"c1500","sx":741,"sy":405},{"id":"c1500","sx":458,"sy":251},{"id":"c1012","sx":797,"sy":395},{"id":"c1012","sx":514,"sy":241},
{"id":"v4500","sx":115,"sy":0},{"id":"v4500","sx":115,"sy":313},{"id":"v4000","sx":172,"sy":0},{"id":"v4000","sx":172,"sy":303},{"id":"v3500","sx":229,"sy":0},{"id":"v3500","sx":229,"sy":292},{"id":"v3000","sx":287,"sy":0},{"id":"v3000","sx":287,"sy":282},{"id":"v2500","sx":343,"sy":0},{"id":"v2500","sx":343,"sy":272},{"id":"v2000","sx":401,"sy":0},{"id":"v2000","sx":401,"sy":262},{"id":"v980","sx":652,"sy":0},{"id":"v980","sx":652,"sy":291},{"id":"v860","sx":709,"sy":0},{"id":"v860","sx":709,"sy":323},{"id":"v805","sx":735,"sy":0},{"id":"v805","sx":735,"sy":337},{"id":"v750","sx":762,"sy":0},{"id":"v750","sx":762,"sy":351},{"id":"v700","sx":786,"sy":0},{"id":"v700","sx":786,"sy":363}
],
"frame":[
{"id":"left","sx":57,"sy":0},{"id":"left","sx":57,"sy":324},{"id":"right","sx":832,"sy":0},{"id":"right","sx":832,"sy":389},
{"id":"front1","sx":57,"sy":324},{"id":"front1","sx":340,"sy":478},{"id":"front2","sx":340,"sy":478},{"id":"front2","sx":832,"sy":389},{"id":"back1","sx":57,"sy":324},{"id":"back1","sx":549,"sy":235},{"id":"back2","sx":549,"sy":235},{"id":"back2","sx":832,"sy":389},
{"id":"tick1","sx":326,"sy":481},{"id":"tick1","sx":340,"sy":478},{"id":"tick2","sx":325,"sy":483},{"id":"tick2","sx":338,"sy":481}
],
"ticks":[{"sx":57,"sy":324},{"sx":159,"sy":380},{"sx":217,"sy":411},{"sx":242,"sy":425},{"sx":268,"sy":439},{"sx":292,"sy":452},{"sx":398,"sy":467},{"sx":455,"sy":457},{"sx":512,"sy":446},{"sx":570,"sy":436},{"sx":628,"sy":426},{"sx":684,"sy":416},{"sx":741,"sy":405},{"sx":797,"sy":395}],
"pressureLabels":[{"t":"1200","sx":31,"sy":335},{"t":"980","sx":138,"sy":390},{"t":"860","sx":196,"sy":421},{"t":"805","sx":222,"sy":434},{"t":"750","sx":248,"sy":449},{"t":"700","sx":272,"sy":462},{"t":"600","sx":320,"sy":488}],
"rpmLabels":[{"t":"5012,0","sx":367,"sy":498},{"t":"4500,0","sx":426,"sy":488},{"t":"4000,0","sx":483,"sy":477},{"t":"3500,0","sx":539,"sy":466},{"t":"3000,0","sx":597,"sy":455},{"t":"2500,0","sx":654,"sy":445},{"t":"2000,0","sx":711,"sy":437},{"t":"1500,0","sx":768,"sy":425},{"t":"1012,0","sx":824,"sy":415},{"t":"700,0","sx":857,"sy":407}]
},
"encoding":{
"x":{"field":"sx","type":"quantitative","scale":{"domain":[0,882],"nice":false,"zero":false},"axis":null},
"y":{"field":"sy","type":"quantitative","scale":{"domain":[0,518],"reverse":true,"nice":false,"zero":false},"axis":null}
},
"layer":[
{"data":{"values":[{"id":"edge","sx":0.5,"sy":0},{"id":"edge","sx":0.5,"sy":518}]},"mark":{"type":"line","order":false,"stroke":"#808080","strokeWidth":1.5}},
{"data":{"name":"dashed"},"mark":{"type":"line","order":false,"stroke":"#747474","strokeWidth":1,"strokeDash":[4,3]},"encoding":{"detail":{"field":"id"}}},
{"data":{"name":"frame"},"mark":{"type":"line","order":false,"stroke":"#a8dca8","strokeWidth":1},"encoding":{"detail":{"field":"id"}}},
{"data":{"name":"surface"},"mark":{"type":"line","order":false,"filled":true,"strokeWidth":0},"encoding":{"fill":{"field":"level","type":"quantitative","legend":null,"scale":{"domain":[34,115,175,232],"range":["#0f4bb0","#00dc14","#e6e60a","#eb190f"],"interpolate":"rgb"}}}},
{"data":{"name":"grid"},"mark":{"type":"line","order":false,"stroke":"#60ff30","strokeOpacity":0.68,"strokeWidth":1},"encoding":{"detail":{"field":"pressure"}}},
{"data":{"name":"grid"},"mark":{"type":"line","order":false,"stroke":"#60ff30","strokeOpacity":0.68,"strokeWidth":1},"encoding":{"detail":{"field":"rpm"}}},
{"data":{"name":"grid"},"mark":{"type":"square","size":9,"color":"#2fd02f","opacity":1}},
{"data":{"name":"ticks"},"mark":{"type":"square","size":9,"color":"#2fd02f","opacity":1}},
{"data":{"values":[{"sx":57,"sy":226}]},"mark":{"type":"square","size":14,"color":"#ffffff","opacity":1}},
{"data":{"values":[{"sx":340,"sy":478},{"sx":832,"sy":389},{"sx":832,"sy":291}]},"mark":{"type":"square","size":16,"fill":"#b020b0","stroke":"#ffffff","strokeWidth":1,"opacity":1}},
{"data":{"name":"pressureLabels"},"mark":{"type":"text","font":"Liberation Mono","fontSize":13,"angle":345,"color":"#36b836"},"encoding":{"text":{"field":"t"}}},
{"data":{"name":"rpmLabels"},"mark":{"type":"text","font":"Liberation Mono","fontSize":13,"angle":29,"color":"#36b836"},"encoding":{"text":{"field":"t"}}},
{"data":{"values":[{"t":"Atmo Pressure (mBar)","sx":178,"sy":440}]},"mark":{"type":"text","font":"Liberation Mono","fontSize":13,"angle":28,"color":"#36b836"},"encoding":{"text":{"field":"t"}}},
{"data":{"values":[{"t":"RPM (1/min)","sx":626,"sy":467}]},"mark":{"type":"text","font":"Liberation Mono","fontSize":13,"angle":346,"color":"#36b836"},"encoding":{"text":{"field":"t"}}}
]}
